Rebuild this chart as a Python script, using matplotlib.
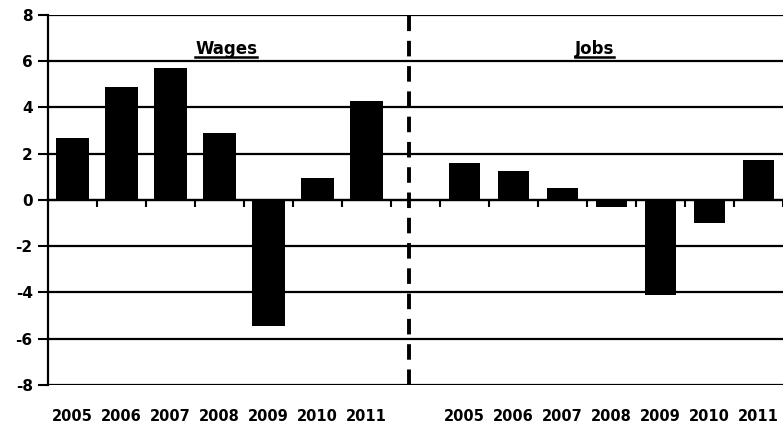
import numpy as np
import matplotlib
matplotlib.use("Agg")
import matplotlib.pyplot as plt
from matplotlib.lines import Line2D

years = ["2005", "2006", "2007", "2008", "2009", "2010", "2011"]
wages = [2.7, 4.9, 5.7, 2.9, -5.45, 0.95, 4.3]
jobs = [1.6, 1.25, 0.5, -0.3, -4.1, -1.0, 1.75]
panel_titles = ["Wages", "Jobs"]
y_ticks = [-8, -6, -4, -2, 0, 2, 4, 6, 8]

plt.rcParams['font.family'] = ['DejaVu Sans']

fig = plt.figure(figsize=(7.83, 4.28), dpi=100)
ax = fig.add_axes([0.0613, 0.1005, 0.9387, 0.8645])

# wages take slots 0-6, slot 7 is the gap, jobs take slots 8-14
x_w = np.arange(len(years))
x_j = np.arange(len(years)) + len(years) + 1
ax.bar(x_w, wages, width=0.67, color="black", zorder=3)
ax.bar(x_j, jobs, width=0.62, color="black", zorder=3)

ax.set_xlim(-0.5, 14.35)
ax.set_ylim(-8, 8)
ax.set_yticks(y_ticks)
ax.set_yticklabels([str(v) for v in y_ticks], fontsize=11, fontweight="bold")
for v in y_ticks:
    ax.axhline(v, color="black", lw=1.6, zorder=1)

# category axis sits on zero with ticks between categories
ax.spines['bottom'].set_position(('data', 0))
ax.spines['bottom'].set_linewidth(1.6)
ax.spines['top'].set_visible(False)
ax.spines['right'].set_visible(False)
ax.spines['left'].set_linewidth(1.6)
bounds = np.concatenate([x_w + 0.5, x_j - 0.5, x_j + 0.5])
ax.set_xticks(np.unique(bounds))
ax.set_xticklabels([])
ax.tick_params(axis='x', direction='out', length=5, width=1.5)
ax.tick_params(axis='y', direction='out', length=7, width=1.5, pad=4)

trans = ax.get_xaxis_transform()
for xs in (x_w, x_j):
    for x, lab in zip(xs, years):
        ax.text(x, -0.085, lab, transform=trans, ha="center", va="center",
                fontsize=10.5, fontweight="bold")

# dashed divider between the two panels
ax.axvline(6.87, color="black", lw=2.8, ls=(0, (4, 2.5)), zorder=4)

titles = []
for xc, t in zip([3.14, 10.65], panel_titles):
    titles.append(ax.text(xc, 6.55, t, ha="center", va="center",
                          fontsize=12, fontweight="bold", zorder=5))

fig.canvas.draw()
inv = fig.transFigure.inverted()
for t in titles:
    bb = t.get_window_extent()
    (x0, y0), (x1, y1) = inv.transform([(bb.x0, bb.y0), (bb.x1, bb.y1)])
    fig.add_artist(Line2D([x0, x1], [y0 + 0.002, y0 + 0.002], color="black", lw=1.8))

fig.savefig("out.png", dpi=100)
